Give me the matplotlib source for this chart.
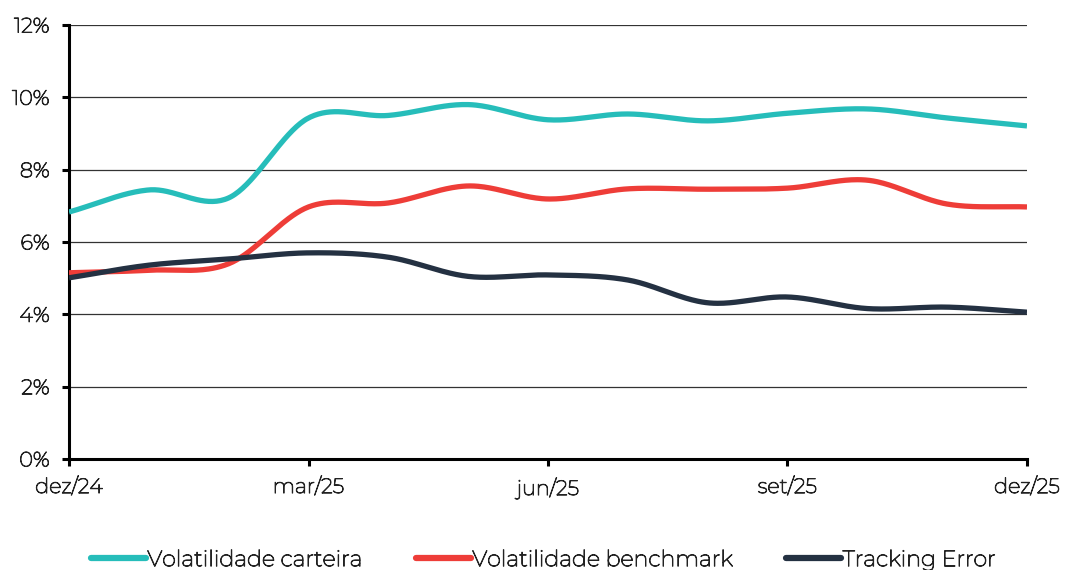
import numpy as np
import matplotlib
matplotlib.use("Agg")
import matplotlib.pyplot as plt
import matplotlib.patheffects as pe
from matplotlib.ticker import FuncFormatter

months = ["dez/24", "jan/25", "fev/25", "mar/25", "abr/25", "mai/25", "jun/25",
          "jul/25", "ago/25", "set/25", "out/25", "nov/25", "dez/25"]
vol_carteira = [6.83, 7.44, 7.22, 9.43, 9.50, 9.80, 9.38, 9.54, 9.35, 9.56, 9.68, 9.43, 9.21]
vol_benchmark = [5.15, 5.22, 5.40, 6.97, 7.08, 7.55, 7.19, 7.47, 7.46, 7.49, 7.71, 7.05, 6.97]
tracking_error = [5.01, 5.36, 5.53, 5.70, 5.58, 5.05, 5.09, 4.95, 4.32, 4.48, 4.16, 4.20, 4.06]

series_labels = ["Volatilidade carteira", "Volatilidade benchmark", "Tracking Error"]
series_colors = ["#26BDBA", "#EE3D38", "#243142"]
text_color = "#222222"

plt.rcParams["font.family"] = ["Montserrat", "Lato", "DejaVu Sans"]


def smooth(y, n=40):
    """Catmull-Rom curve through the monthly points."""
    y = np.asarray(y, dtype=float)
    x = np.arange(len(y), dtype=float)
    px = np.concatenate([[2 * x[0] - x[1]], x, [2 * x[-1] - x[-2]]])
    py = np.concatenate([[2 * y[0] - y[1]], y, [2 * y[-1] - y[-2]]])
    xs, ys = [], []
    t = np.linspace(0, 1, n, endpoint=False)
    for i in range(1, len(px) - 2):
        def cr(a, b, c, d):
            return 0.5 * ((2 * b) + (-a + c) * t + (2 * a - 5 * b + 4 * c - d) * t ** 2
                          + (-a + 3 * b - 3 * c + d) * t ** 3)
        xs.append(cr(px[i - 1], px[i], px[i + 1], px[i + 2]))
        ys.append(cr(py[i - 1], py[i], py[i + 1], py[i + 2]))
    xs.append([x[-1]])
    ys.append([y[-1]])
    return np.concatenate(xs), np.concatenate(ys)


fig = plt.figure(figsize=(10.65, 5.7), dpi=100)
ax = fig.add_axes([0.0648, 0.1947, 0.8995, 0.7614])

for vals, lab, col in zip([vol_carteira, vol_benchmark, tracking_error], series_labels, series_colors):
    sx, sy = smooth(vals)
    ax.plot(sx, sy, color=col, lw=3.8, label=lab, solid_capstyle="butt", zorder=3)

ax.set_xlim(0, len(months) - 1)
ax.set_ylim(0, 12)
ax.set_yticks(np.arange(0, 13, 2))
ax.yaxis.set_major_formatter(FuncFormatter(lambda v, p: f"{v:.0f}%"))
ax.set_xticks([0, 3, 6, 9, 12])
ax.set_xticklabels([months[i] for i in [0, 3, 6, 9, 12]])

ax.grid(axis="y", color="#333333", lw=0.9, zorder=0)
ax.set_axisbelow(True)
for s in ["top", "right"]:
    ax.spines[s].set_visible(False)
for s in ["left", "bottom"]:
    ax.spines[s].set_color("black")
    ax.spines[s].set_linewidth(2.2)
ax.tick_params(axis="both", direction="out", length=5, width=2.2, color="black",
               labelsize=15, labelcolor=text_color)
ax.tick_params(axis="y", pad=9)
ax.tick_params(axis="x", pad=8)

leg = ax.legend(loc="center", bbox_to_anchor=(0.495, -0.232), ncol=3, frameon=False,
                fontsize=16, handlelength=2.5, handletextpad=0.05, columnspacing=2.4)
for h in leg.get_lines():
    h.set_solid_capstyle("round")
    h.set_linewidth(4.5)

# thicken the light glyphs to a regular stroke weight
bold = [pe.withStroke(linewidth=0.7, foreground=text_color)]
for t in ax.get_xticklabels() + ax.get_yticklabels() + leg.get_texts():
    t.set_color(text_color)
    t.set_path_effects(bold)

fig.savefig("out.png", dpi=100)
